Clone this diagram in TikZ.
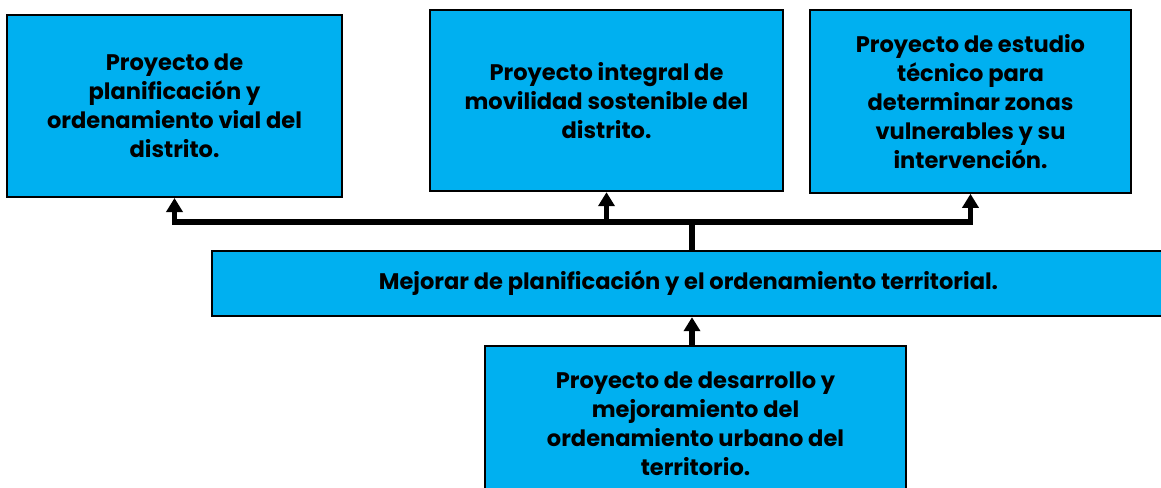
\documentclass[tikz,border=0pt]{standalone}
\usepackage{fontspec}
\setmainfont{Poppins}
\usetikzlibrary{arrows.meta}
\definecolor{boxblue}{HTML}{00B0F0}
\begin{document}
\begin{tikzpicture}[x=0.75pt,y=-0.75pt,
  box/.style={draw=black, line width=1.5pt, fill=boxblue, align=center,
    font=\fontsize{16.9}{21.75}\selectfont\bfseries, inner sep=0pt},
  link/.style={line width=3.8pt},
  conn/.style={link, -{Triangle[length=10.5pt,width=12pt]}}]
\useasboundingbox (0,0) rectangle (1161,487);
\node[box, minimum width=251pt, minimum height=136.5pt] (b1) at (174.5,106)
  {Proyecto de\\planificación y\\ordenamiento vial del\\distrito.};
\node[box, minimum width=265pt, minimum height=136pt] (b2) at (606.5,100.5)
  {Proyecto integral de\\movilidad sostenible del\\distrito.};
\node[box, minimum width=241pt, minimum height=137pt] (b3) at (970.5,101.5)
  {Proyecto de estudio\\técnico para\\determinar zonas\\vulnerables y su\\intervención.};
\node[box, minimum width=715pt, minimum height=49pt] (mid) at (688.5,283.5)
  {Mejorar de planificación y el ordenamiento territorial.};
\node[box, minimum width=316pt, minimum height=117pt] (bot) at (695.5,424)
  {Proyecto de desarrollo y\\mejoramiento del\\ordenamiento urbano del\\territorio.};
\coordinate (bus) at (692,222);
\draw[link] (mid.north -| bus) -- (bus);
\draw[conn] (bus) -| (b1.south);
\draw[conn] (bus) -| (b2.south);
\draw[conn] (bus) -| (b3.south);
\draw[conn] (bot.north -| bus) -- (mid.south -| bus);
\end{tikzpicture}
\end{document}
